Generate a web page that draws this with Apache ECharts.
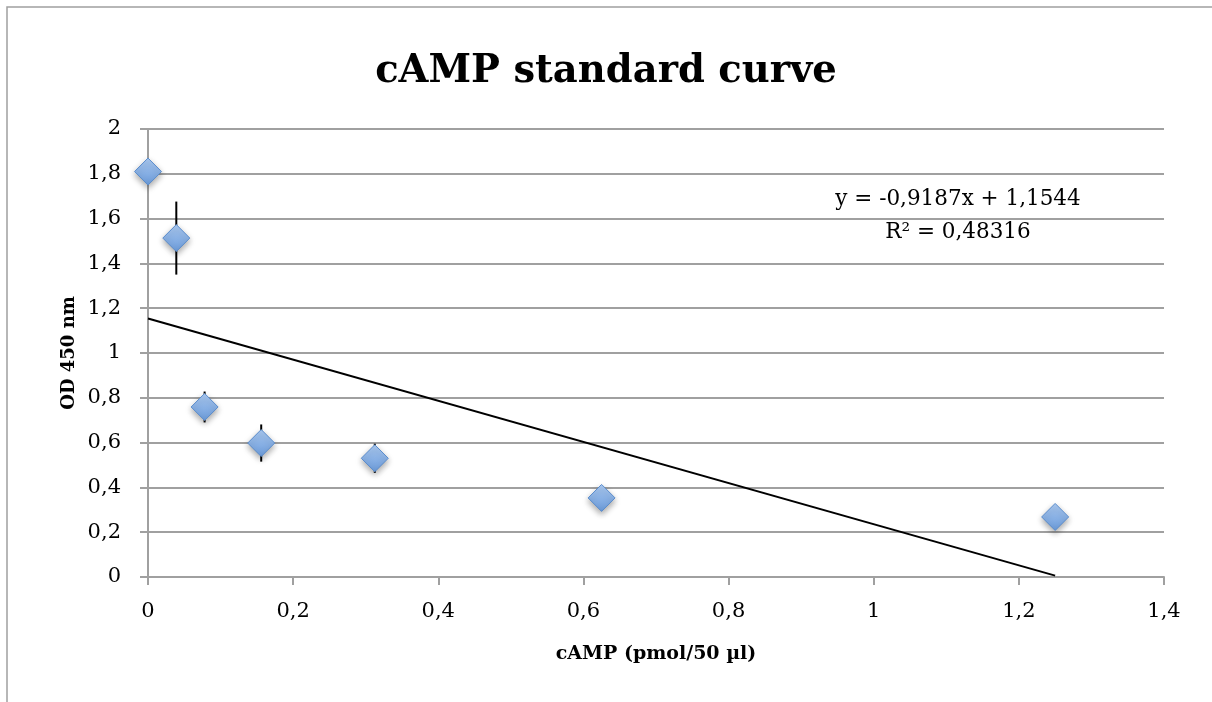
<!DOCTYPE html>
<html>
<head>
<meta charset="utf-8">
<script src="https://cdn.jsdelivr.net/npm/echarts@6/dist/echarts.min.js"></script>
<style>
html,body{margin:0;padding:0;background:#fff;}
#chart{width:1212px;height:702px;}
</style>
</head>
<body>
<div id="chart"></div>
<script>
// cAMP concentrations and OD readings
var camp = [0, 0.039, 0.078, 0.156, 0.3125, 0.625, 1.25];
var od = [1.81, 1.513, 0.759, 0.598, 0.53, 0.353, 0.268];
var odErr = [0.02, 0.163, 0.069, 0.083, 0.065, 0.02, 0.02];
// linear trendline
var slope = -0.9187;
var intercept = 1.1544;
var r2 = 0.48316;
var trendX = [0, 1.25];

var serif = '"DejaVu Serif", "Liberation Serif", serif';
var comma = function (v) { return String(v).replace('.', ','); };

var points = camp.map(function (x, i) { return [x, od[i]]; });
var errs = camp.map(function (x, i) { return [x, od[i] - odErr[i], od[i] + odErr[i]]; });
var trend = trendX.map(function (x) { return [x, slope * x + intercept]; });

var chart = echarts.init(document.getElementById('chart'));
chart.setOption({
    animation: false,
    title: {
        text: 'cAMP standard curve',
        left: 'center',
        top: 47,
        textStyle: { fontFamily: serif, fontSize: 38.5, fontWeight: 'bold', color: '#000' }
    },
    grid: { left: 148, right: 48, top: 129, bottom: 125 },
    xAxis: {
        type: 'value',
        min: 0, max: 1.4, interval: 0.2,
        name: 'cAMP (pmol/50 µl)',
        nameLocation: 'middle',
        nameGap: 68,
        nameMoveOverlap: false,
        nameTextStyle: { fontFamily: serif, fontSize: 19, fontWeight: 'bold', color: '#000' },
        axisLine: { lineStyle: { color: '#a0a0a0', width: 2 } },
        axisTick: { show: true, length: 8, lineStyle: { color: '#a0a0a0', width: 2 } },
        splitLine: { show: false },
        axisLabel: { formatter: comma, fontFamily: serif, fontSize: 21, color: '#000', margin: 24 }
    },
    yAxis: {
        type: 'value',
        min: 0, max: 2, interval: 0.2,
        name: 'OD 450 nm',
        nameLocation: 'middle',
        nameGap: 70,
        nameMoveOverlap: false,
        nameTextStyle: { fontFamily: serif, fontSize: 18, fontWeight: 'bold', color: '#000' },
        axisLine: { show: true, lineStyle: { color: '#a0a0a0', width: 2 } },
        axisTick: { show: true, length: 8, lineStyle: { color: '#a0a0a0', width: 2 } },
        splitLine: { show: true, lineStyle: { color: '#a0a0a0', width: 2 } },
        axisLabel: { formatter: comma, fontFamily: serif, fontSize: 21, color: '#000', margin: 27 }
    },
    graphic: [
        { type: 'rect', x: 7, y: 7, shape: { x: 0, y: 0, width: 1300, height: 800 },
          style: { fill: 'none', stroke: '#a0a0a0', lineWidth: 1.5 }, silent: true },
        { type: 'text', x: 958, y: 199,
          style: { text: 'y = ' + comma(slope) + 'x + ' + comma(intercept), font: '21.5px ' + serif,
                   fill: '#000', align: 'center', verticalAlign: 'middle' } },
        { type: 'text', x: 958, y: 232,
          style: { text: 'R² = ' + comma(r2), font: '21.5px ' + serif,
                   fill: '#000', align: 'center', verticalAlign: 'middle' } }
    ],
    series: [
        {
            type: 'line',
            data: trend,
            showSymbol: false,
            lineStyle: { color: '#000', width: 2 },
            z: 3
        },
        {
            type: 'custom',
            data: errs,
            renderItem: function (params, api) {
                var top = api.coord([api.value(0), api.value(2)]);
                var bot = api.coord([api.value(0), api.value(1)]);
                return {
                    type: 'line',
                    shape: { x1: top[0], y1: top[1], x2: bot[0], y2: bot[1] },
                    style: { stroke: '#000', lineWidth: 2 }
                };
            },
            z: 4
        },
        {
            type: 'scatter',
            data: points,
            symbol: 'diamond',
            symbolSize: [27, 27],
            itemStyle: {
                opacity: 1,
                color: new echarts.graphic.LinearGradient(0, 0, 0, 1, [
                    { offset: 0, color: '#abcaf2' },
                    { offset: 1, color: '#6a9ad9' }
                ]),
                borderColor: '#5a8ccc',
                borderWidth: 1,
                shadowBlur: 6,
                shadowOffsetY: 3,
                shadowColor: 'rgba(0,0,0,0.35)'
            },
            z: 5
        }
    ]
});
</script>
</body>
</html>
